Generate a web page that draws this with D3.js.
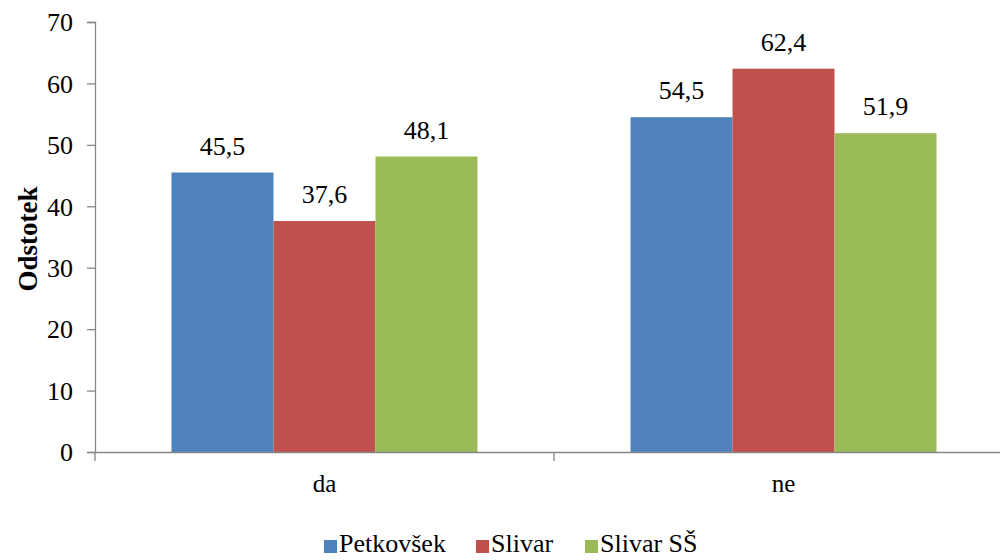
<!DOCTYPE html>
<html>
<head>
<meta charset="utf-8">
<script src="https://cdn.jsdelivr.net/npm/d3@7"></script>
<style>
  html, body { margin: 0; padding: 0; background: #fff; }
  svg { display: block; }
</style>
</head>
<body>
<svg id="chart" width="1000" height="560" font-family="Liberation Serif"></svg>
<script>
// Answer categories and series
const categories = ["da", "ne"];
const seriesNames = ["Petkovšek", "Slivar", "Slivar SŠ"];
const petkovsek = [45.5, 54.5];
const slivar = [37.6, 62.4];
const slivarSS = [48.1, 51.9];
const yTicks = [0, 10, 20, 30, 40, 50, 60, 70];
const colors = ["#4F81BD", "#C0504D", "#9BBB59"];

const seriesValues = [petkovsek, slivar, slivarSS];
const FONT = "Liberation Serif";

const svg = d3.select("#chart");
const plotLeft = 95, plotRight = 1013, plotTop = 22, plotBottom = 452;

const x0 = d3.scaleBand().domain(categories).range([plotLeft, plotRight]).paddingInner(0).paddingOuter(0);
// 150% gap width: bars take 3 of 4.5 steps in each category band
const x1 = d3.scaleBand().domain(seriesNames)
  .range([0, x0.bandwidth()]).paddingInner(0).paddingOuter(0.75);
const y = d3.scaleLinear().domain([0, 70]).range([plotBottom, plotTop]);

const fmt = v => String(v).replace(".", ",");

// Bars and value labels
const groups = svg.selectAll("g.cat").data(categories).enter().append("g")
  .attr("class", "cat")
  .attr("transform", d => `translate(${x0(d)},0)`);

groups.each(function(cat, ci) {
  const g = d3.select(this);
  seriesNames.forEach((s, si) => {
    const v = seriesValues[si][ci];
    g.append("rect")
      .attr("x", x1(s))
      .attr("y", y(v))
      .attr("width", x1.bandwidth())
      .attr("height", y(0) - y(v))
      .attr("fill", colors[si]);
    g.append("text")
      .attr("x", x1(s) + x1.bandwidth() / 2)
      .attr("y", y(v) - 18)
      .attr("text-anchor", "middle")
      .attr("font-family", FONT)
      .attr("font-size", 26)
      .attr("fill", "#000")
      .text(fmt(v));
  });
});

// Y axis
const yAxis = d3.axisLeft(y).tickValues(yTicks).tickSize(8).tickPadding(14);
const gy = svg.append("g").attr("transform", `translate(${plotLeft},0)`).call(yAxis)
  .attr("font-family", FONT).attr("font-size", 26);
gy.select(".domain").attr("stroke", "#868686").attr("stroke-width", 1.3);
gy.selectAll(".tick line").attr("stroke", "#868686").attr("stroke-width", 1.3);
gy.selectAll(".tick text").attr("fill", "#000").attr("dy", "0.34em");

// X axis
const xAxis = d3.axisBottom(x0).tickSize(0).tickPadding(22);
const gx = svg.append("g").attr("transform", `translate(0,${plotBottom})`).call(xAxis)
  .attr("font-family", FONT).attr("font-size", 25);
gx.select(".domain").attr("stroke", "#868686").attr("stroke-width", 1.3);
gx.selectAll(".tick text").attr("fill", "#000");
// Category separator ticks
const sepTicks = [plotLeft, x0("ne")];
gx.selectAll("line.sep").data(sepTicks).enter().append("line")
  .attr("class", "sep")
  .attr("x1", d => d).attr("x2", d => d)
  .attr("y1", 0).attr("y2", 9)
  .attr("stroke", "#868686").attr("stroke-width", 1.3);

// Y axis title
svg.append("text")
  .attr("transform", `translate(37,239) rotate(-90)`)
  .attr("text-anchor", "middle")
  .attr("font-family", FONT)
  .attr("font-size", 27)
  .attr("font-weight", "bold")
  .text("Odstotek");

// Legend
const legendRectX = [324, 476, 585];
const legend = svg.append("g");
seriesNames.forEach((s, i) => {
  legend.append("rect")
    .attr("x", legendRectX[i]).attr("y", 540)
    .attr("width", 13).attr("height", 13)
    .attr("fill", colors[i]);
  legend.append("text")
    .attr("x", legendRectX[i] + 15).attr("y", 552)
    .attr("font-family", FONT)
    .attr("font-size", 26)
    .attr("fill", "#000")
    .text(s);
});
</script>
</body>
</html>
